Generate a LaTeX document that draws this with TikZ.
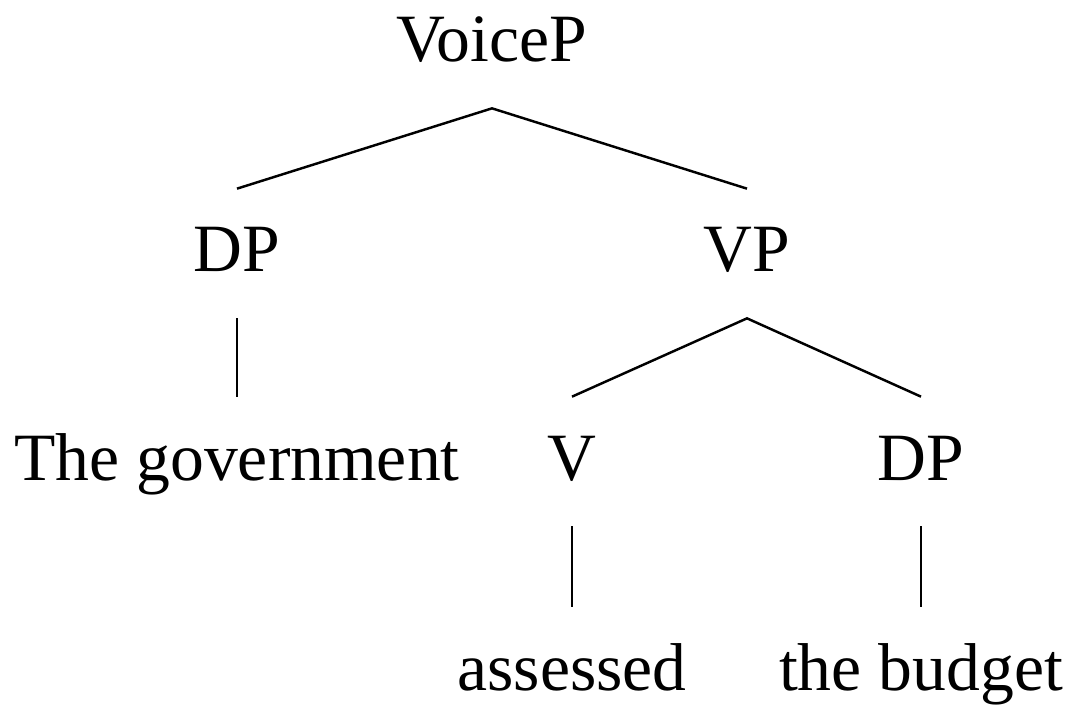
\documentclass[tikz,border=0pt]{standalone}
\usepackage{fontspec}
\setmainfont{Liberation Serif}
\begin{document}
\begin{tikzpicture}[x=0.02cm,y=-0.02cm,
  lab/.style={anchor=base,inner sep=0pt,text height=1.66cm,text depth=0.92cm,font=\fontsize{38.5}{42}\selectfont},
  br/.style={line width=1.4pt}]
\useasboundingbox (0,0) rectangle (1072,716);
\node[lab] (voice) at (492,62) {VoiceP};
\node[lab] (dp1) at (237,272) {DP};
\node[lab] (vp) at (747,272) {VP};
\node[lab] (gov) at (237,480) {The government};
\node[lab] (v) at (572,480) {V};
\node[lab] (dp2) at (921,480) {DP};
\node[lab] (ass) at (572,690) {assessed};
\node[lab] (bud) at (921,690) {the budget};
\draw[br] (dp1.north) -- (voice.south) -- (vp.north);
\draw[br] (dp1.south) -- (gov.north);
\draw[br] (v.north) -- (vp.south) -- (dp2.north);
\draw[br] (v.south) -- (ass.north);
\draw[br] (dp2.south) -- (bud.north);
\end{tikzpicture}
\end{document}
